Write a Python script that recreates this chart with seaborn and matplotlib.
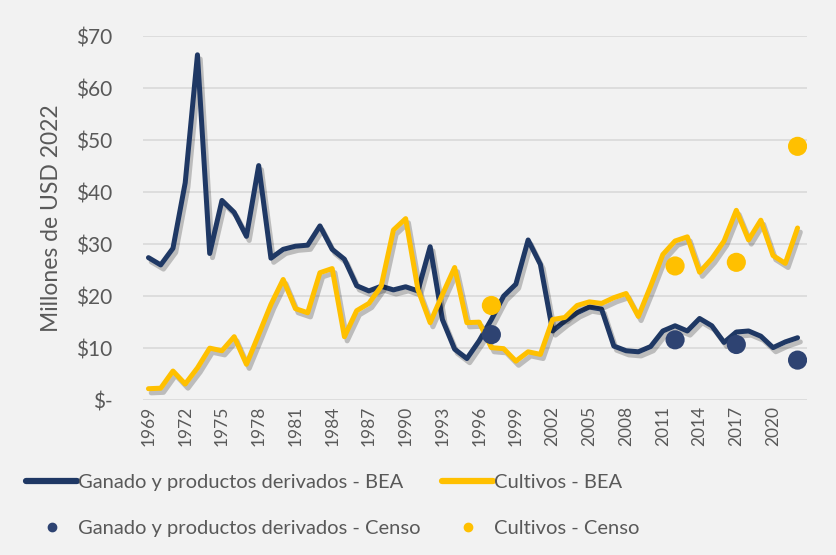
import numpy as np
import pandas as pd
import matplotlib
matplotlib.use("Agg")
import matplotlib.pyplot as plt
import matplotlib.patheffects as pe
from matplotlib.lines import Line2D
import seaborn as sns

# ---------- Data (millones de USD 2022) ----------
years = list(range(1969, 2023))

ganado_bea = [
    27.4, 26.0, 29.2, 41.8, 66.4, 28.2, 38.4, 36.1, 31.5, 45.1,
    27.3, 29.0, 29.6, 29.8, 33.5, 29.0, 27.1, 22.0, 21.0, 21.9,
    21.2, 21.8, 21.0, 29.5, 15.5, 9.8, 8.0, 11.4, 15.5, 20.0,
    22.3, 30.8, 26.1, 13.3, 15.2, 16.8, 17.9, 17.5, 10.4, 9.5,
    9.3, 10.3, 13.3, 14.3, 13.3, 15.7, 14.3, 11.1, 13.1, 13.3,
    12.3, 10.1, 11.2, 12.0,
]

cultivos_bea = [
    2.2, 2.3, 5.6, 3.1, 6.2, 10.0, 9.5, 12.2, 6.9, 12.6,
    18.4, 23.2, 17.6, 16.8, 24.5, 25.3, 12.2, 17.2, 18.6, 21.9,
    32.7, 34.9, 21.3, 14.9, 20.3, 25.5, 14.9, 15.0, 10.1, 9.9,
    7.5, 9.3, 8.8, 15.5, 15.9, 18.2, 18.9, 18.6, 19.7, 20.5,
    16.1, 21.9, 28.0, 30.6, 31.4, 24.6, 27.2, 30.6, 36.5, 30.8,
    34.6, 27.8, 26.3, 33.1,
]

censo_years = [1997, 2012, 2017, 2022]
ganado_censo = [12.6, 11.6, 10.7, 7.7]
cultivos_censo = [18.2, 25.8, 26.5, 48.8]

labels = [
    "Ganado y productos derivados - BEA",
    "Cultivos - BEA",
    "Ganado y productos derivados - Censo",
    "Cultivos - Censo",
]

NAVY = "#1f3864"
GOLD = "#ffc000"
NAVY_DOT = "#2e4372"
TEXT = "#595959"
BG = "#f2f2f2"

bea = pd.DataFrame({"year": years, "ganado": ganado_bea, "cultivos": cultivos_bea})
censo = pd.DataFrame({"year": censo_years, "ganado": ganado_censo, "cultivos": cultivos_censo})

# ---------- Plot ----------
sns.set_theme(style="white")
plt.rcParams["font.family"] = ["Lato", "DejaVu Sans"]

fig = plt.figure(figsize=(8.36, 5.55), dpi=100, facecolor=BG)
ax = fig.add_axes([0.171, 0.279, 0.794, 0.656], facecolor=BG)

shadow = [pe.SimpleLineShadow(offset=(2, -3), alpha=0.22, shadow_color="black"), pe.Normal()]

sns.lineplot(data=bea, x="year", y="ganado", color=NAVY, linewidth=3.6, ax=ax,
             path_effects=shadow)
sns.lineplot(data=bea, x="year", y="cultivos", color=GOLD, linewidth=3.6, ax=ax,
             path_effects=shadow)
sns.scatterplot(data=censo, x="year", y="ganado", color=NAVY_DOT, s=190, ax=ax,
                edgecolor="none", zorder=5)
sns.scatterplot(data=censo, x="year", y="cultivos", color=GOLD, s=190, ax=ax,
                edgecolor="none", zorder=5)

ax.set_xlim(1968.55, 2022.75)
ax.set_ylim(0, 70)
ax.set_yticks(range(0, 71, 10))
ax.set_yticklabels(["$-"] + [f"${v}" for v in range(10, 71, 10)])
ax.set_xticks(range(1969, 2022, 3))
ax.tick_params(axis="x", labelrotation=90, labelsize=12.5, colors=TEXT, length=0, pad=4)
ax.tick_params(axis="y", labelsize=15, colors=TEXT, length=0, pad=22)
ax.yaxis.grid(True, color="#d9d9d9", linewidth=1.2)
ax.set_axisbelow(True)
for s in ax.spines.values():
    s.set_visible(False)

ax.set_xlabel("")
ax.set_ylabel("Millones de USD 2022", fontsize=16.5, color=TEXT, labelpad=10)

handles = [
    Line2D([], [], color=NAVY, linewidth=4.5),
    Line2D([], [], marker="o", linestyle="none", color=NAVY_DOT, markersize=6),
    Line2D([], [], color=GOLD, linewidth=4.5),
    Line2D([], [], marker="o", linestyle="none", color=GOLD, markersize=6),
]
leg_labels = [labels[0], labels[2], labels[1], labels[3]]
fig.legend(handles, leg_labels, loc="lower left", bbox_to_anchor=(0.01, 0.0),
           ncol=2, frameon=False, fontsize=14.5, labelcolor=TEXT,
           handlelength=2.5, handletextpad=0.05, columnspacing=1.1,
           labelspacing=1.45)

fig.savefig("out.png", dpi=100, facecolor=BG)
